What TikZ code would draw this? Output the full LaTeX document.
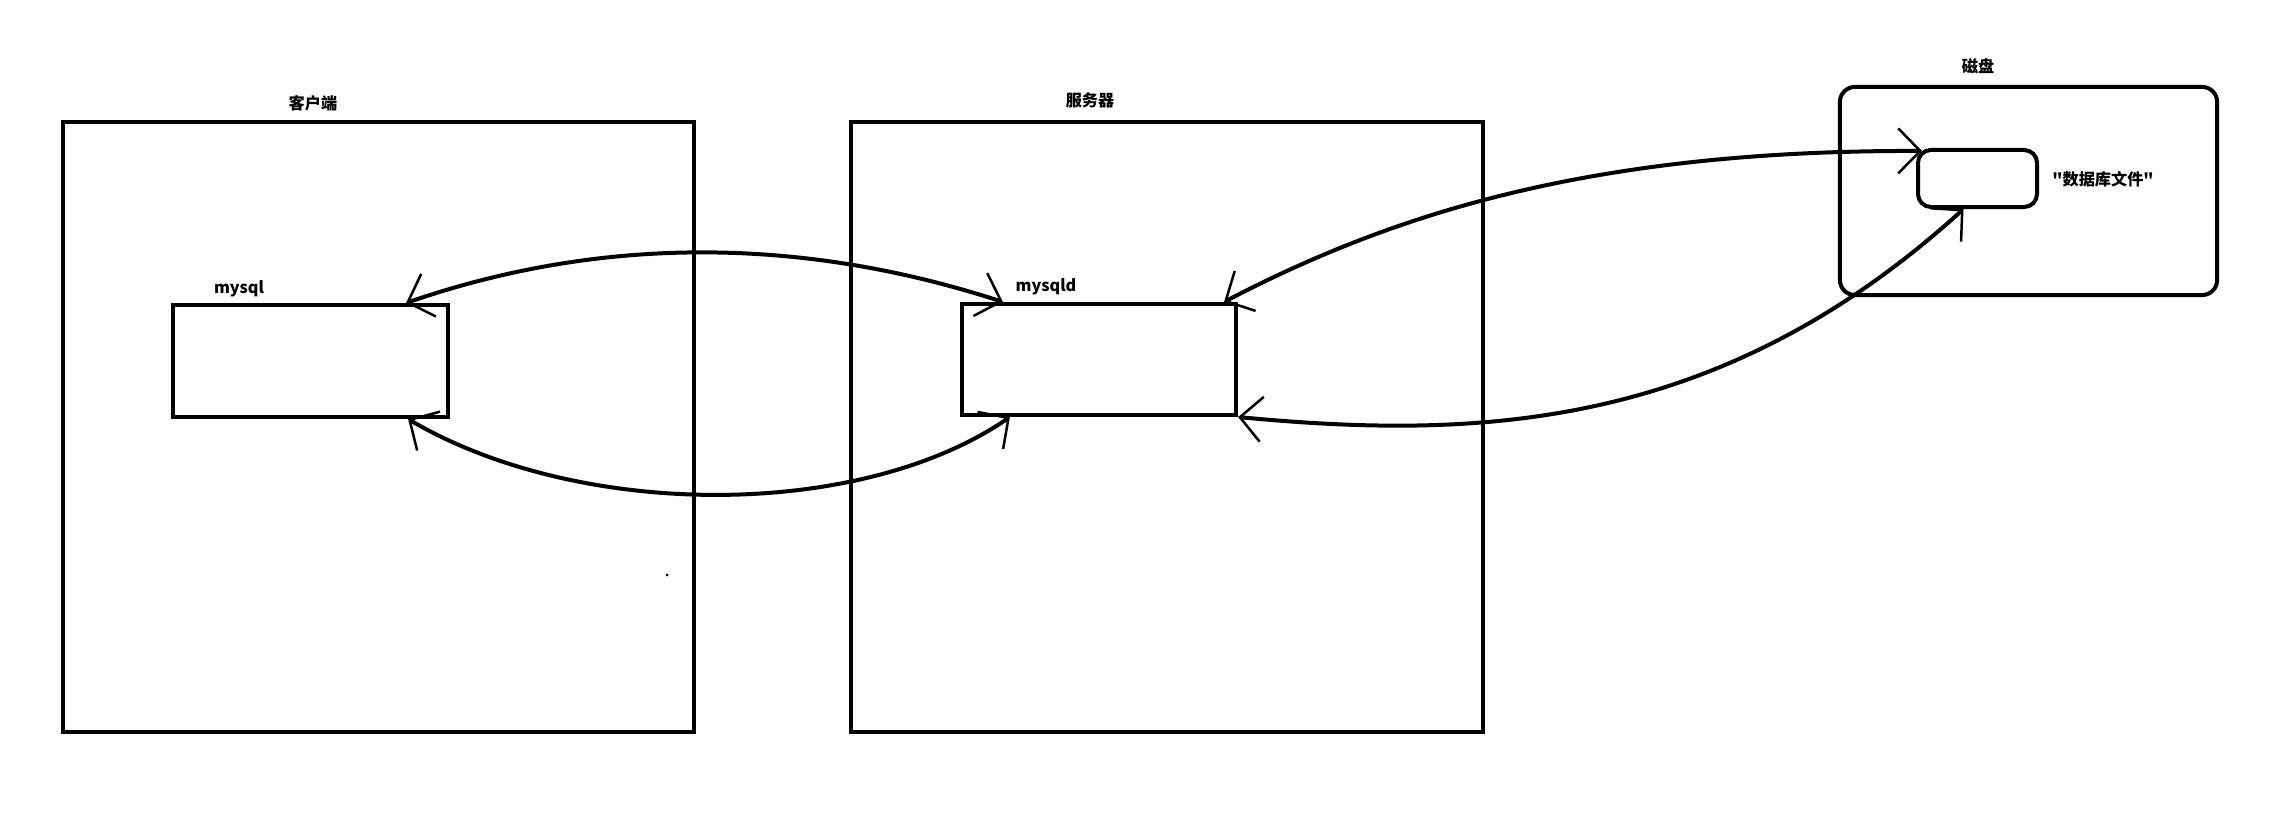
\documentclass[tikz,border=0pt]{standalone}
\usepackage{fontspec}
\newfontfamily\cjk{Noto Sans CJK SC}
\usetikzlibrary{arrows.meta,calc}

\begin{document}
\begin{tikzpicture}[x=0.01cm,y=-0.01cm,
    frame/.style={draw,line width=0.04cm,inner sep=0pt},
    lbl/.style={font=\cjk\bfseries\fontsize{4.6pt}{5pt}\selectfont,inner sep=0pt},
    link/.style={line width=0.04cm,
      {Straight Barb[length=0.22cm,width=0.45cm,line width=0.025cm]}-{Straight Barb[length=0.22cm,width=0.45cm,line width=0.025cm]}}]
      \useasboundingbox (0,0) rectangle (2286,822);

      \node[frame,minimum width=6.31cm,minimum height=6.1cm] (client) at (378.5,427) {};
      \node[frame,minimum width=6.32cm,minimum height=6.1cm] (server) at (1167,427) {};
      \node[frame,rounded corners=0.15cm,minimum width=3.77cm,minimum height=2.08cm] (disk) at (2028.5,191) {};

      \node[frame,minimum width=2.75cm,minimum height=1.12cm] (mysql) at (310.5,361) {};
      \node[frame,minimum width=2.74cm,minimum height=1.11cm] (mysqld) at (1099,359.5) {};
      \node[frame,rounded corners=0.13cm,minimum width=1.19cm,minimum height=0.57cm] (file) at (1977.5,178.5) {};

      \node[lbl] (clientlbl) at (313,103) {客户端};
      \node[lbl] (serverlbl) at (1090,100) {服务器};
      \node[lbl] (disklbl) at (1978,66) {磁盘};
      \node[lbl] (filelbl) at (2103,179) {"数据库文件"};
      \node[lbl] (mysqllbl) at (239,289) {mysql};
      \node[lbl] (mysqldlbl) at (1046,287) {mysqld};

      \draw[link] ($(mysql.north east)+(-44,0)$) .. controls (600,236) and (800,236) .. ($(mysqld.north west)+(43,0)$);
      \draw[link] ($(mysql.south east)+(-42,0)$) .. controls (580,520) and (860,520) .. ($(mysqld.south west)+(50,0)$);
      \draw[link] ($(mysqld.north east)+(-14,0)$) .. controls (1400,210) and (1600,150) .. ($(file.north west)+(6,3)$);
      \draw[link] (mysqld.south east) .. controls (1480,440) and (1720,430) .. ($(file.south)+(-14,0)$);

      \fill (667,575) circle (1.5);
    \end{tikzpicture}
\end{document}
